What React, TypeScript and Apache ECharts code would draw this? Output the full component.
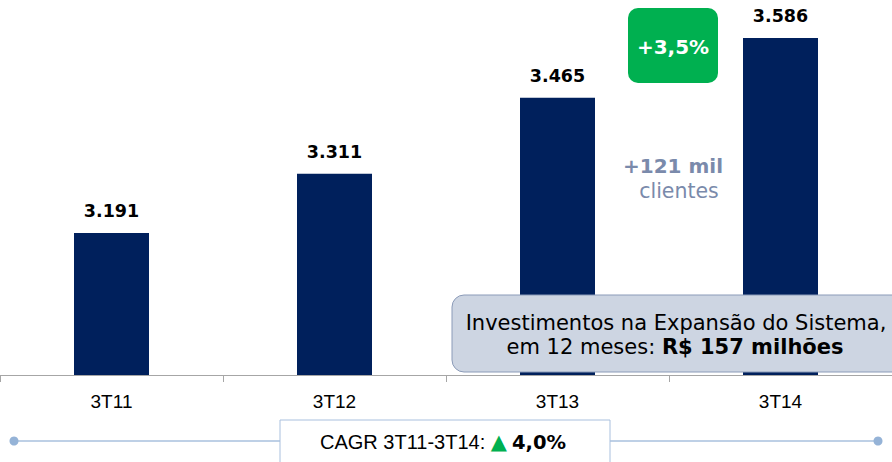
import React, { useEffect, useRef } from "react";
import * as echarts from "echarts";

const categories = ["3T11", "3T12", "3T13", "3T14"];
const clients = [3191, 3311, 3465, 3586];
const valueLabels = ["3.191", "3.311", "3.465", "3.586"];
const growthLabel = "+3,5%";
const addedLabel = "+121 mil";
const addedSub = "clientes";
const investLine1 = "Investimentos na Expansão do Sistema,";
const investLine2a = "em 12 meses: ";
const investLine2b = "R$ 157 milhões";
const cagrLabel = "CAGR 3T11-3T14: ";
const cagrValue = "4,0%";

const SANS = "'Liberation Sans', Arial, sans-serif";
const VERD = "'DejaVu Sans', Verdana, sans-serif";

export default function App() {
  const ref = useRef<HTMLDivElement>(null);
  useEffect(() => {
    if (!ref.current) return;
    const chart = echarts.init(ref.current, undefined, { renderer: "svg" });
    chart.setOption({
      animation: false,
      grid: { left: 0, right: 0, top: 0, bottom: 87, containLabel: false },
      xAxis: {
        type: "category",
        data: categories,
        axisLine: { lineStyle: { color: "#A6A6A6", width: 1 } },
        axisTick: { show: true, length: 7, lineStyle: { color: "#A6A6A6" } },
        axisLabel: { color: "#000", fontSize: 19, fontFamily: SANS, margin: 17 },
      },
      yAxis: {
        type: "value",
        min: 2903,
        max: 3663,
        show: false,
        splitLine: { show: false },
      },
      series: [
        {
          type: "bar",
          data: clients,
          barWidth: 75,
          itemStyle: { color: "#00205C" },
          label: {
            show: true,
            position: "top",
            distance: 13,
            fontFamily: VERD,
            fontWeight: "bold",
            fontSize: 17.5,
            color: "#000",
            formatter: (p: any) => valueLabels[p.dataIndex],
          },
        },
      ],
      graphic: [
        {
          type: "rect",
          z: 10,
          shape: { x: 628, y: 8, width: 90, height: 75, r: 10 },
          style: { fill: "#00B050" },
        },
        {
          type: "text",
          z: 11,
          x: 673,
          y: 47,
          style: {
            text: growthLabel,
            fill: "#fff",
            font: `bold 20px ${VERD}`,
            align: "center",
            verticalAlign: "middle",
          },
        },
        {
          type: "text",
          z: 11,
          x: 673,
          y: 166,
          style: {
            text: addedLabel,
            fill: "#7A8AAB",
            font: `bold 20px ${VERD}`,
            align: "center",
            verticalAlign: "middle",
          },
        },
        {
          type: "text",
          z: 11,
          x: 679,
          y: 191,
          style: {
            text: addedSub,
            fill: "#7A8AAB",
            font: `20.5px ${VERD}`,
            align: "center",
            verticalAlign: "middle",
          },
        },
        {
          type: "rect",
          z: 10,
          shape: { x: 452, y: 295, width: 460, height: 77, r: 12 },
          style: { fill: "#CDD5E2", stroke: "#8B9BB8", lineWidth: 1 },
        },
        {
          type: "text",
          z: 11,
          x: 676,
          y: 323,
          style: {
            text: investLine1,
            fill: "#000",
            font: `21px ${VERD}`,
            align: "center",
            verticalAlign: "middle",
          },
        },
        {
          type: "text",
          z: 11,
          x: 675,
          y: 347,
          style: {
            text: `{n|${investLine2a}}{b|${investLine2b}}`,
            align: "center",
            verticalAlign: "middle",
            rich: {
              n: { font: `21px ${VERD}`, fill: "#000" },
              b: { font: `bold 21px ${VERD}`, fill: "#000" },
            },
          },
        },
        {
          type: "line",
          z: 5,
          shape: { x1: 14, y1: 441, x2: 878, y2: 441 },
          style: { stroke: "#A9C0DE", lineWidth: 1.5 },
        },
        {
          type: "circle",
          z: 6,
          shape: { cx: 14, cy: 441, r: 4.5 },
          style: { fill: "#95B3D7" },
        },
        {
          type: "circle",
          z: 6,
          shape: { cx: 878, cy: 441, r: 4.5 },
          style: { fill: "#95B3D7" },
        },
        {
          type: "rect",
          z: 7,
          shape: { x: 280, y: 420, width: 330, height: 50 },
          style: { fill: "#fff", stroke: "#A9C0DE", lineWidth: 1 },
        },
        {
          type: "text",
          z: 11,
          x: 443,
          y: 442,
          style: {
            text: `{n|${cagrLabel}}{g|▲}{b|${cagrValue}}`,
            align: "center",
            verticalAlign: "middle",
            rich: {
              n: { font: `20px ${SANS}`, fill: "#000" },
              g: { font: `21px ${VERD}`, fill: "#00B050", padding: [0, 5, 0, 0] },
              b: { font: `bold 19.5px ${VERD}`, fill: "#000" },
            },
          },
        },
      ],
    });
    return () => chart.dispose();
  }, []);
  return <div ref={ref} style={{ width: 892, height: 462, position: "absolute", left: 0, top: 0 }} />;
}
